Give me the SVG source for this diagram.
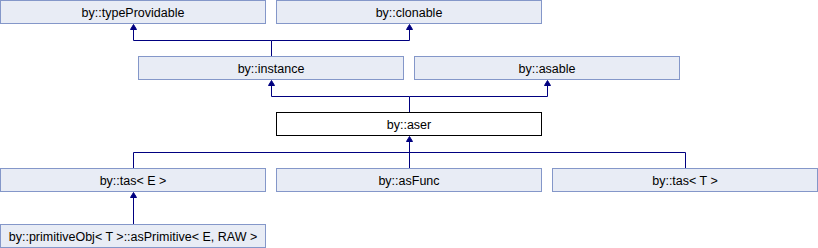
<svg xmlns="http://www.w3.org/2000/svg" width="818" height="248" viewBox="0 0 818 248">
<style>
.n rect{fill:#e8ecf5;stroke:#8497c9;stroke-width:1}
.n.cur rect{fill:#ffffff;stroke:#000000}
.n text{font-family:"Liberation Sans",Arial,sans-serif;font-size:12.5px;fill:#000;text-anchor:middle}
.e path{fill:none;stroke:#000080;stroke-width:1}
.e polygon{fill:#000080;stroke:#000080;stroke-width:1}
</style>
<rect width="818" height="248" fill="#ffffff"/>
<g id="nodes">
<g id="typeProvidable" class="n"><rect x="0.5" y="0.5" width="265" height="23"/><text x="133" y="16.5">by::typeProvidable</text></g>
<g id="clonable" class="n"><rect x="276.5" y="0.5" width="265" height="23"/><text x="409" y="16.5">by::clonable</text></g>
<g id="instance" class="n"><rect x="138.5" y="56.5" width="265" height="23"/><text x="271" y="72.5">by::instance</text></g>
<g id="asable" class="n"><rect x="414.5" y="56.5" width="265" height="23"/><text x="547" y="72.5">by::asable</text></g>
<g id="aser" class="n cur"><rect x="276.5" y="112.5" width="265" height="23"/><text x="409" y="128.5">by::aser</text></g>
<g id="tasE" class="n"><rect x="0.5" y="168.5" width="265" height="23"/><text x="133" y="184.5">by::tas&lt; E &gt;</text></g>
<g id="asFunc" class="n"><rect x="276.5" y="168.5" width="265" height="23"/><text x="409" y="184.5">by::asFunc</text></g>
<g id="tasT" class="n"><rect x="552.5" y="168.5" width="265" height="23"/><text x="685" y="184.5">by::tas&lt; T &gt;</text></g>
<g id="asPrimitive" class="n"><rect x="0.5" y="224.5" width="265" height="23"/><text x="133" y="240.5">by::primitiveObj&lt; T &gt;::asPrimitive&lt; E, RAW &gt;</text></g>
</g>
<g id="connectors" class="e">
<path d="M271.5,56 V40.5 H133.5 V29"/>
<path d="M271.5,40.5 H409.5 V29"/>
<polygon points="133.5,24.5 130.5,29.5 136.5,29.5"/>
<polygon points="409.5,24.5 406.5,29.5 412.5,29.5"/>
<path d="M409.5,112 V96.5 H271.5 V85"/>
<path d="M409.5,96.5 H547.5 V85"/>
<polygon points="271.5,80.5 268.5,85.5 274.5,85.5"/>
<polygon points="547.5,80.5 544.5,85.5 550.5,85.5"/>
<path d="M409.5,168 V141"/>
<path d="M133.5,168 V152.5 H685.5 V168"/>
<polygon points="409.5,136.5 406.5,141.5 412.5,141.5"/>
<path d="M133.5,224 V197"/>
<polygon points="133.5,192.5 130.5,197.5 136.5,197.5"/>
</g>
</svg>
